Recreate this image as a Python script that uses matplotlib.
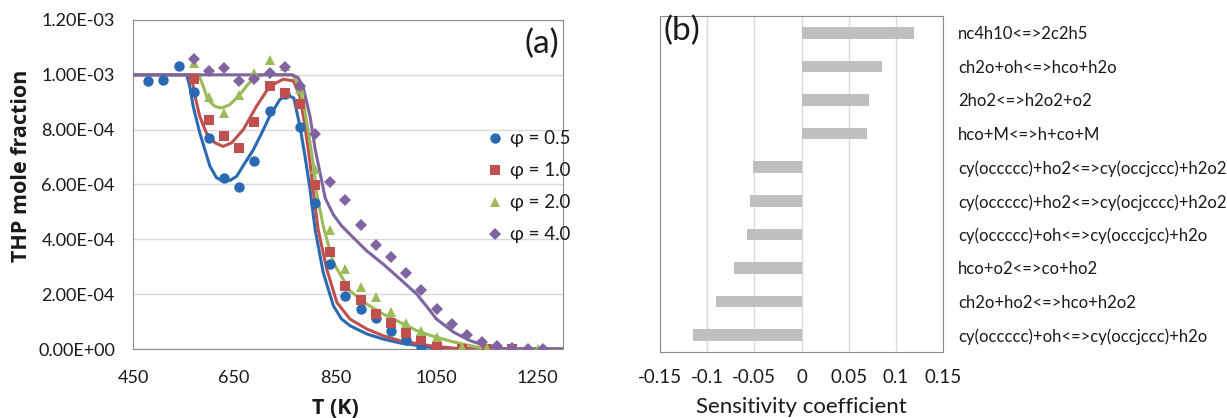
import matplotlib
matplotlib.use("Agg")
import matplotlib.pyplot as plt
from matplotlib.lines import Line2D
from matplotlib.ticker import FuncFormatter

plt.rcParams['font.family'] = ['Lato', 'DejaVu Sans']

# ---- panel (a): THP mole fraction, experiments (markers) and model (lines), units of 1e-4
T_exp_05 = [480, 510, 540, 570, 600, 630, 660, 690, 720, 750, 780, 810, 840, 870, 900, 930, 960, 990, 1020, 1050]
x_exp_05 = [9.76, 9.82, 10.34, 9.36, 7.70, 6.24, 5.90, 6.84, 8.67, 9.3, 8.10, 5.31, 3.09, 1.94, 1.45, 1.12, 0.67, 0.32, 0.08, 0.02]

T_exp_10 = [570, 600, 630, 660, 690, 720, 750, 780, 810, 840, 870, 900, 930, 960, 990, 1020, 1050, 1100, 1150, 1200]
x_exp_10 = [9.83, 8.35, 7.78, 7.33, 8.27, 9.61, 9.33, 8.94, 5.97, 3.55, 2.30, 1.77, 1.29, 0.94, 0.57, 0.33, 0.06, 0.0, 0.0, 0.0]

T_exp_20 = [570, 600, 630, 660, 690, 720, 750, 780, 810, 840, 870, 900, 930, 960, 990, 1020, 1050, 1100, 1150, 1200, 1250]
x_exp_20 = [10.42, 9.2, 8.59, 9.25, 10.05, 10.54, 10.32, 9.47, 6.58, 4.33, 2.91, 2.25, 1.89, 1.36, 0.96, 0.67, 0.43, 0.09, 0.04, 0.01, 0.01]

T_exp_40 = [570, 600, 630, 660, 690, 720, 750, 780, 810, 840, 870, 900, 930, 960, 990, 1020, 1050, 1080, 1110, 1140, 1170, 1200, 1230, 1260]
x_exp_40 = [10.59, 10.14, 10.26, 9.78, 9.86, 10.05, 10.29, 9.61, 7.86, 6.08, 5.45, 4.51, 3.80, 3.36, 2.79, 2.16, 1.45, 0.91, 0.50, 0.26, 0.11, 0.02, 0.01, 0.01]

T_mod_05 = [450, 556, 562, 569, 582, 602, 615, 628, 642, 655, 670, 688, 705, 720, 740, 755, 768, 780, 790, 800, 810, 826, 846, 862, 879, 912, 945, 978, 1037, 1090, 1300]
x_mod_05 = [10.0, 10.0, 9.6, 8.85, 7.88, 6.67, 6.25, 6.12, 6.15, 6.3, 6.75, 7.27, 7.9, 8.48, 9.09, 9.27, 9.15, 8.12, 7.03, 5.82, 4.36, 2.79, 1.58, 1.1, 0.85, 0.55, 0.36, 0.22, 0.06, 0.0, 0.0]

T_mod_10 = [450, 565, 572, 582, 595, 612, 628, 645, 668, 694, 720, 747, 767, 780, 790, 800, 806, 816, 833, 853, 879, 912, 945, 978, 1037, 1090, 1300]
x_mod_10 = [10.0, 10.0, 9.27, 8.48, 7.88, 7.52, 7.39, 7.52, 8.0, 8.85, 9.58, 9.84, 9.78, 9.21, 8.12, 6.79, 5.82, 4.36, 2.91, 1.70, 1.09, 0.73, 0.48, 0.30, 0.12, 0.02, 0.0]

T_mod_20 = [450, 580, 589, 598, 612, 625, 641, 658, 674, 688, 707, 765, 773, 786, 797, 807, 813, 826, 846, 879, 912, 945, 978, 1011, 1037, 1060, 1083, 1117, 1145, 1300]
x_mod_20 = [10.0, 10.0, 9.58, 9.09, 8.85, 8.79, 8.91, 9.21, 9.58, 9.88, 10.0, 10.0, 9.76, 9.09, 7.88, 6.67, 5.7, 4.48, 3.15, 2.12, 1.64, 1.27, 0.97, 0.67, 0.50, 0.38, 0.26, 0.12, 0.02, 0.0]

T_mod_40 = [450, 765, 776, 786, 800, 810, 820, 830, 846, 862, 879, 912, 945, 978, 1011, 1037, 1050, 1084, 1117, 1150, 1183, 1300]
x_mod_40 = [10.0, 10.0, 9.9, 9.58, 8.48, 7.3, 6.4, 5.5, 4.9, 4.5, 4.18, 3.58, 3.09, 2.55, 2.0, 1.4, 1.09, 0.61, 0.30, 0.10, 0.01, 0.0]

phi_labels = ["φ = 0.5", "φ = 1.0", "φ = 2.0", "φ = 4.0"]
colors = ["#2A6AB2", "#C0504D", "#9BBB59", "#8064A2"]
markers = ["o", "s", "^", "D"]

# ---- panel (b): sensitivity coefficients
reactions = ["nc4h10<=>2c2h5",
             "ch2o+oh<=>hco+h2o",
             "2ho2<=>h2o2+o2",
             "hco+M<=>h+co+M",
             "cy(occccc)+ho2<=>cy(occjccc)+h2o2",
             "cy(occccc)+ho2<=>cy(ocjcccc)+h2o2",
             "cy(occccc)+oh<=>cy(occcjcc)+h2o",
             "hco+o2<=>co+ho2",
             "ch2o+ho2<=>hco+h2o2",
             "cy(occccc)+oh<=>cy(occjccc)+h2o"]
sens = [0.1196, 0.0849, 0.0718, 0.0694, -0.0518, -0.0547, -0.0576, -0.0718, -0.0906, -0.1151]
sens_ticks = [-0.15, -0.1, -0.05, 0, 0.05, 0.1, 0.15]

fig = plt.figure(figsize=(12.27, 4.18), dpi=100)
edge = "#8C8C8C"
grid = "#D9D9D9"
txt = "#1A1A1A"

# panel (a)
ax = fig.add_axes([133 / 1227, 69 / 418, 430 / 1227, 329 / 418])
sc = 1e-4
exp_T = [T_exp_05, T_exp_10, T_exp_20, T_exp_40]
exp_x = [x_exp_05, x_exp_10, x_exp_20, x_exp_40]
mod_T = [T_mod_05, T_mod_10, T_mod_20, T_mod_40]
mod_x = [x_mod_05, x_mod_10, x_mod_20, x_mod_40]
for i in range(4):
    ax.plot(mod_T[i], [v * sc for v in mod_x[i]], color=colors[i], lw=2.2, zorder=3)
for i in range(4):
    ms = 7.5 if markers[i] != "D" else 6
    ax.plot(exp_T[i], [v * sc for v in exp_x[i]], markers[i], color=colors[i], ms=ms,
            markeredgewidth=0, zorder=4)

ax.set_xlim(450, 1300)
ax.set_ylim(0, 1.2e-3)
ax.set_xticks([450, 650, 850, 1050, 1250])
ax.set_yticks([i * 2e-4 for i in range(7)])
ax.yaxis.set_major_formatter(FuncFormatter(lambda v, p: "%.2E" % v))
ax.tick_params(length=0, labelsize=13, colors=txt)
ax.tick_params(axis="y", pad=13)
ax.tick_params(axis="x", pad=15)
ax.grid(axis="y", color=grid, lw=1)
ax.set_axisbelow(True)
for s in ax.spines.values():
    s.set_color(edge)
ax.set_ylabel("THP mole fraction", fontsize=15.5, fontweight="bold", family="Open Sans",
              va="center", color=txt)
ax.yaxis.set_label_coords(-0.26, 0.556)
ax.set_xlabel("T (K)", fontsize=15.5, fontweight="bold", family="Open Sans", va="center", color=txt)
ax.xaxis.set_label_coords(0.47, -0.18)
ax.text(0.992, 0.975, "(a)", transform=ax.transAxes, ha="right", va="top", fontsize=24, color=txt)

handles = [Line2D([], [], ls="none", marker=markers[i], color=colors[i], ms=7.5 if markers[i] != "D" else 6,
                  markeredgewidth=0) for i in range(4)]
leg = ax.legend(handles, phi_labels, loc="upper left", bbox_to_anchor=(0.808, 0.688), frameon=False,
                fontsize=13.5, handlelength=0.8, handletextpad=0.35, labelspacing=0.8, borderaxespad=0)
for t in leg.get_texts():
    t.set_color(txt)

# panel (b)
bx = fig.add_axes([660 / 1227, 66 / 418, 283 / 1227, 336 / 418])
ypos = list(range(len(reactions)))
bx.barh(ypos, sens, height=0.34, color="#BFBFBF", zorder=3)
bx.set_xlim(-0.15, 0.15)
bx.set_ylim(len(reactions) - 0.5, -0.5)
bx.set_xticks(sens_ticks)
bx.set_xticklabels(["-0.15", "-0.1", "-0.05", "0", "0.05", "0.1", "0.15"])
bx.set_yticks(ypos)
bx.set_yticklabels(reactions)
bx.yaxis.tick_right()
bx.tick_params(length=0, labelsize=12, colors=txt)
bx.tick_params(axis="x", pad=12, labelsize=13.5)
bx.tick_params(axis="y", pad=11)
bx.grid(axis="x", color=grid, lw=1)
bx.set_axisbelow(True)
for s in bx.spines.values():
    s.set_color(edge)
bx.set_xlabel("Sensitivity coefficient", fontsize=16, labelpad=8, color=txt)
bx.text(0.012, 1.0, "(b)", transform=bx.transAxes, ha="left", va="top", fontsize=24, color=txt)

fig.savefig("out.png", dpi=100)
